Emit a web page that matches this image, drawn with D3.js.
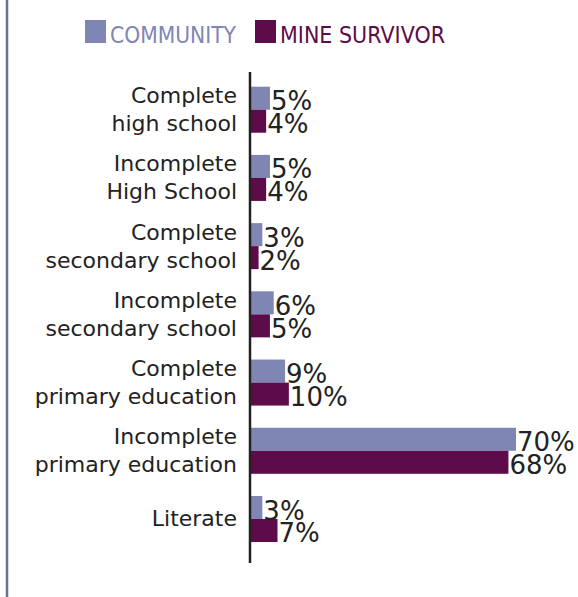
<!DOCTYPE html>
<html>
<head>
<meta charset="utf-8">
<script src="https://cdn.jsdelivr.net/npm/d3@7"></script>
<style>
  html, body { margin: 0; padding: 0; background: #fff; }
  svg { display: block; font-family: "DejaVu Sans", sans-serif; }
</style>
</head>
<body>
<svg id="chart" width="578" height="597"></svg>
<script>
// Education level, community vs. mine survivors (percent)
const categories = [
  "Complete\nhigh school",
  "Incomplete\nHigh School",
  "Complete\nsecondary school",
  "Incomplete\nsecondary school",
  "Complete\nprimary education",
  "Incomplete\nprimary education",
  "Literate"
];
const community = [5, 5, 3, 6, 9, 70, 3];
const survivor = [4, 4, 2, 5, 10, 68, 7];
const seriesNames = ["COMMUNITY", "MINE SURVIVOR"];
const seriesColors = ["#7f86b4", "#5e0b4a"];

const svg = d3.select("#chart");

// left border rule
svg.append("line")
  .attr("x1", 7).attr("x2", 7).attr("y1", 0).attr("y2", 597)
  .attr("stroke", "#6d7198").attr("stroke-width", 2.5);

const x = d3.scaleLinear().domain([0, 70]).range([251, 516]);
const y = d3.scaleBand().domain(categories).range([86.7, 542]).paddingInner(0.3255).paddingOuter(0);
const sub = d3.scaleBand().domain(seriesNames).range([0, y.bandwidth()]);

const rows = categories.map((c, i) => ({ cat: c, values: [community[i], survivor[i]] }));

const groups = svg.selectAll("g.row").data(rows).join("g")
  .attr("class", "row")
  .attr("transform", d => `translate(0,${y(d.cat)})`);

groups.selectAll("rect").data(d => d.values.map((v, k) => ({ v, k }))).join("rect")
  .attr("x", x(0))
  .attr("y", d => sub(seriesNames[d.k]))
  .attr("width", d => x(d.v) - x(0))
  .attr("height", sub.bandwidth())
  .attr("fill", d => seriesColors[d.k]);

groups.selectAll("text.val").data(d => d.values.map((v, k) => ({ v, k }))).join("text")
  .attr("class", "val")
  .attr("x", d => x(d.v) + 1)
  .attr("y", d => sub(seriesNames[d.k]) + sub.bandwidth() + 0.5)
  .attr("font-size", 26)
  .attr("fill", "#222")
  .text(d => d.v + "%");

// category labels, right-aligned, centred on each pair of bars
groups.each(function(d) {
  const lines = d.cat.split("\n");
  const lh = 28;
  const mid = y.bandwidth() / 2;
  const t = d3.select(this).append("text")
    .attr("text-anchor", "end")
    .attr("font-size", 22)
    .attr("fill", "#222");
  lines.forEach((ln, j) => {
    t.append("tspan")
      .attr("x", 237)
      .attr("y", mid + (j - (lines.length - 1) / 2) * lh + 7.5)
      .text(ln);
  });
});

// vertical axis line
svg.append("line")
  .attr("x1", 250).attr("x2", 250).attr("y1", 72).attr("y2", 563)
  .attr("stroke", "#222").attr("stroke-width", 2.5);

// legend
const legendItems = [
  { name: seriesNames[0], color: seriesColors[0], x: 85, w: 126 },
  { name: seriesNames[1], color: seriesColors[1], x: 255, w: 165 }
];
const lg = svg.selectAll("g.legend").data(legendItems).join("g")
  .attr("class", "legend")
  .attr("transform", d => `translate(${d.x},20)`);
lg.append("rect").attr("width", 21).attr("height", 23).attr("fill", d => d.color);
lg.append("text")
  .attr("x", 25).attr("y", 23.3)
  .attr("font-size", 23)
  .attr("fill", d => d.color)
  .attr("textLength", d => d.w)
  .attr("lengthAdjust", "spacingAndGlyphs")
  .text(d => d.name);
</script>
</body>
</html>
